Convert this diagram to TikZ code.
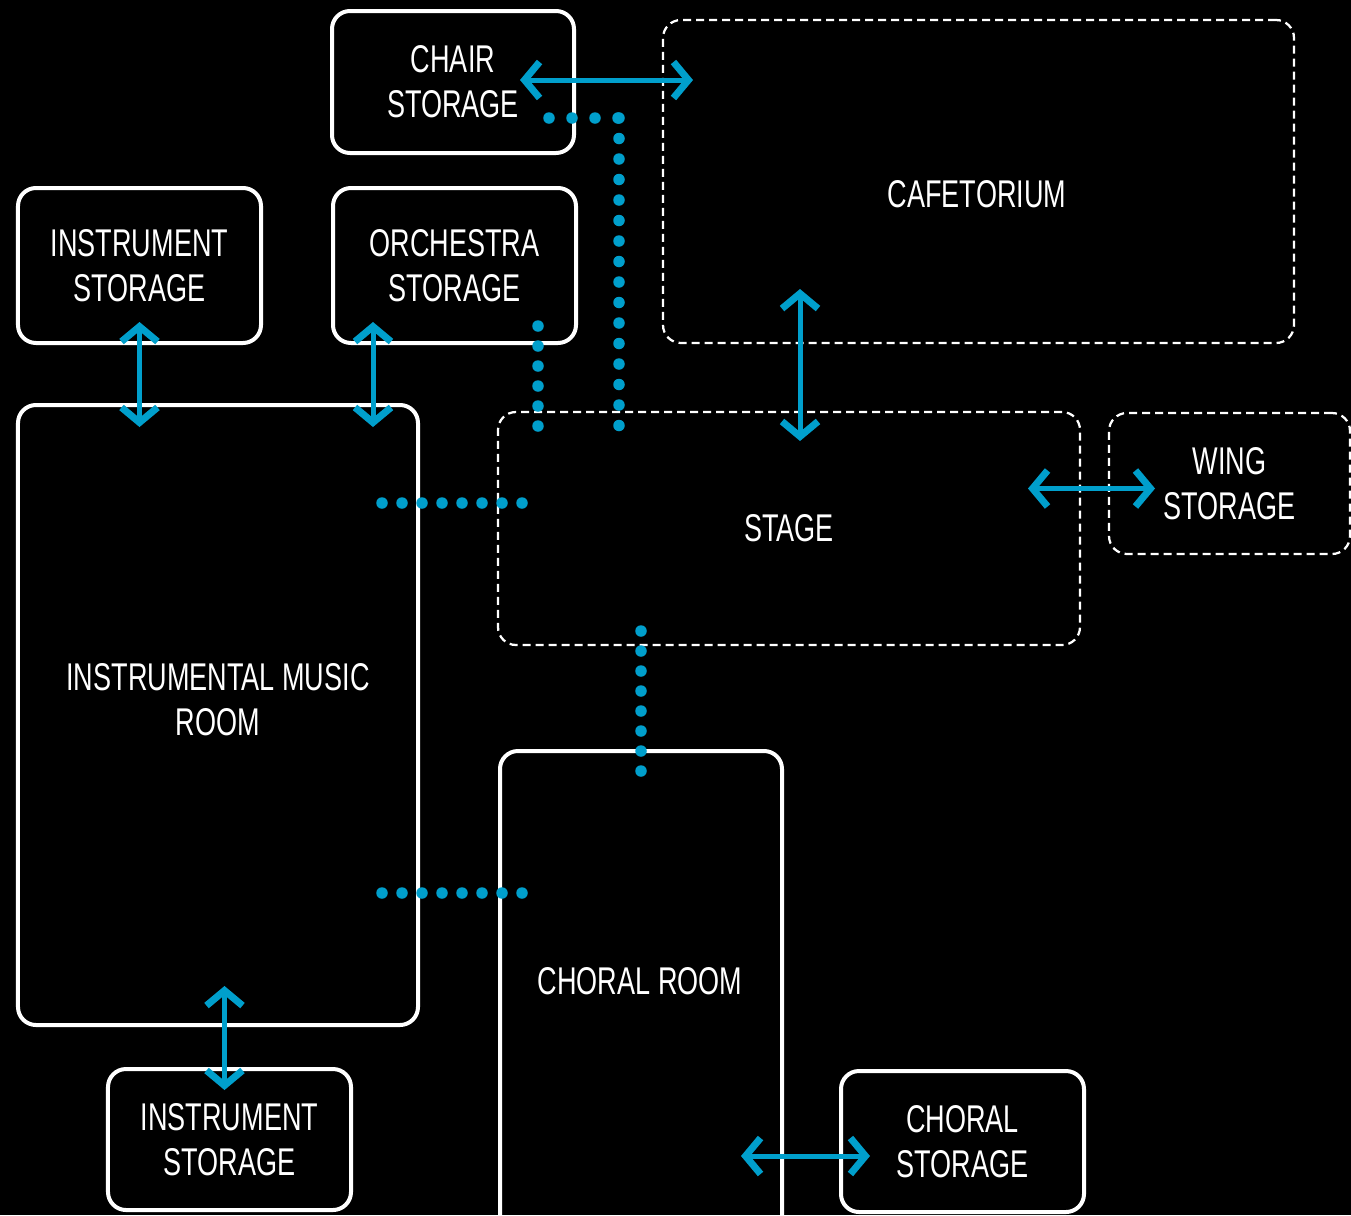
\documentclass[tikz,border=0pt]{standalone}
\usepackage{fontspec}
\setmainfont{Liberation Sans}[FakeStretch=0.7]
\usetikzlibrary{arrows.meta,calc}

\definecolor{flow}{RGB}{0,159,204}

\tikzset{
  room/.style={draw=white,line width=0.8mm,rounded corners=3.6mm,text=white,align=center,inner sep=0pt,outer sep=0pt,
    font=\fontsize{22}{25.6}\selectfont},
  zone/.style={room,line width=0.45mm,dash pattern=on 1.6mm off 1mm},
  tag/.style={text=white,align=center,font=\fontsize{22}{25.6}\selectfont},
  barb/.tip={Straight Barb[length=3mm,width=7.2mm,line width=1.4mm]},
  link/.style={flow,line width=1mm,barb-barb},
  near/.style={flow,line width=2.3mm,line cap=round,dash pattern=on 0pt off 4mm}
}

\begin{document}
\begin{tikzpicture}[x=0.2mm,y=-0.2mm]
\fill [black] (0,0) rectangle (1351,1215);
\useasboundingbox (0,0) rectangle (1351,1215);

% storage and rooms
\node [room,minimum width=48.4mm,minimum height=28.4mm] (chair) at (453,82) {CHAIR\\STORAGE};
\node [room,minimum width=48.6mm,minimum height=31mm] (instA) at (139.5,265.5) {INSTRUMENT\\STORAGE};
\node [room,minimum width=48.6mm,minimum height=31mm] (orch) at (454.5,265.5) {ORCHESTRA\\STORAGE};
\node [room,minimum width=80mm,minimum height=124mm] (music) at (218,715) {};
\node [tag] (musictxt) at (218,700) {INSTRUMENTAL MUSIC\\ROOM};
\node [room,minimum width=56.4mm,minimum height=98mm] (choral) at (641,996) {};
\node [tag] (choraltxt) at (640,981) {CHORAL ROOM};
\node [room,minimum width=48.6mm,minimum height=28.2mm] (instB) at (229.5,1139.5) {INSTRUMENT\\STORAGE};
\node [room,minimum width=48.6mm,minimum height=28.2mm] (chstore) at (962.5,1141.5) {CHORAL\\STORAGE};

% shared spaces
\node [zone,minimum width=126.2mm,minimum height=64.6mm] (cafe) at (978.5,181.5) {};
\node [tag] (cafetxt) at (977,194) {CAFETORIUM};
\node [zone,minimum width=116.4mm,minimum height=46.6mm] (stage) at (789,528.5) {STAGE};
\node [zone,minimum width=48.2mm,minimum height=28.2mm] (wing) at (1229.5,483.5) {WING\\STORAGE};

% direct access
\draw [link] ($(chair.east)+(-54,-2)$) -- ($(chair.east -| cafe.west)+(30,-2)$);
\draw [link] ($(instA.south)+(0,-21)$) -- ($(instA.south |- music.north)+(0,22)$);
\draw [link] ($(orch.south west)+(40,-21)$) -- ($(orch.south west |- music.north)+(40,22)$);
\draw [link] ($(stage.north)+(11,29)$) -- ($(stage.north |- cafe.south)+(11,-54)$);
\draw [link] ($(wing.west)+(-81,5)$) -- ($(wing.west)+(46,5)$);
\draw [link] ($(instB.north |- music.south)+(-5,-39)$) -- ($(instB.north)+(-5,21)$);
\draw [link] ($(chstore.west)+(-100,14.5)$) -- ($(chstore.west)+(29,14.5)$);

% nearby
\coordinate (turn) at ($(chair.south east)+(45,-35)$);
\draw [near,dash pattern=on 0pt off 4.6mm] ($(chair.south east)+(-25,-35)$) -- (turn);
\draw [near,dash pattern=on 0pt off 4.1mm] (turn) -- ($(stage.north west)+(121,19)$);
\draw [near] ($(orch.south east)+(-38,-17)$) -- ($(stage.north west)+(40,18)$);
\draw [near] ($(music.north east)+(-36,98)$) -- ($(stage.west)+(25,-25.5)$);
\draw [near] ($(music.east)+(-36,178)$) -- ($(music.east -| choral.west)+(23,178)$);
\draw [near] ($(choral.north |- stage.south)+(0,-14)$) -- ($(choral.north)+(0,21)$);
\end{tikzpicture}
\end{document}
